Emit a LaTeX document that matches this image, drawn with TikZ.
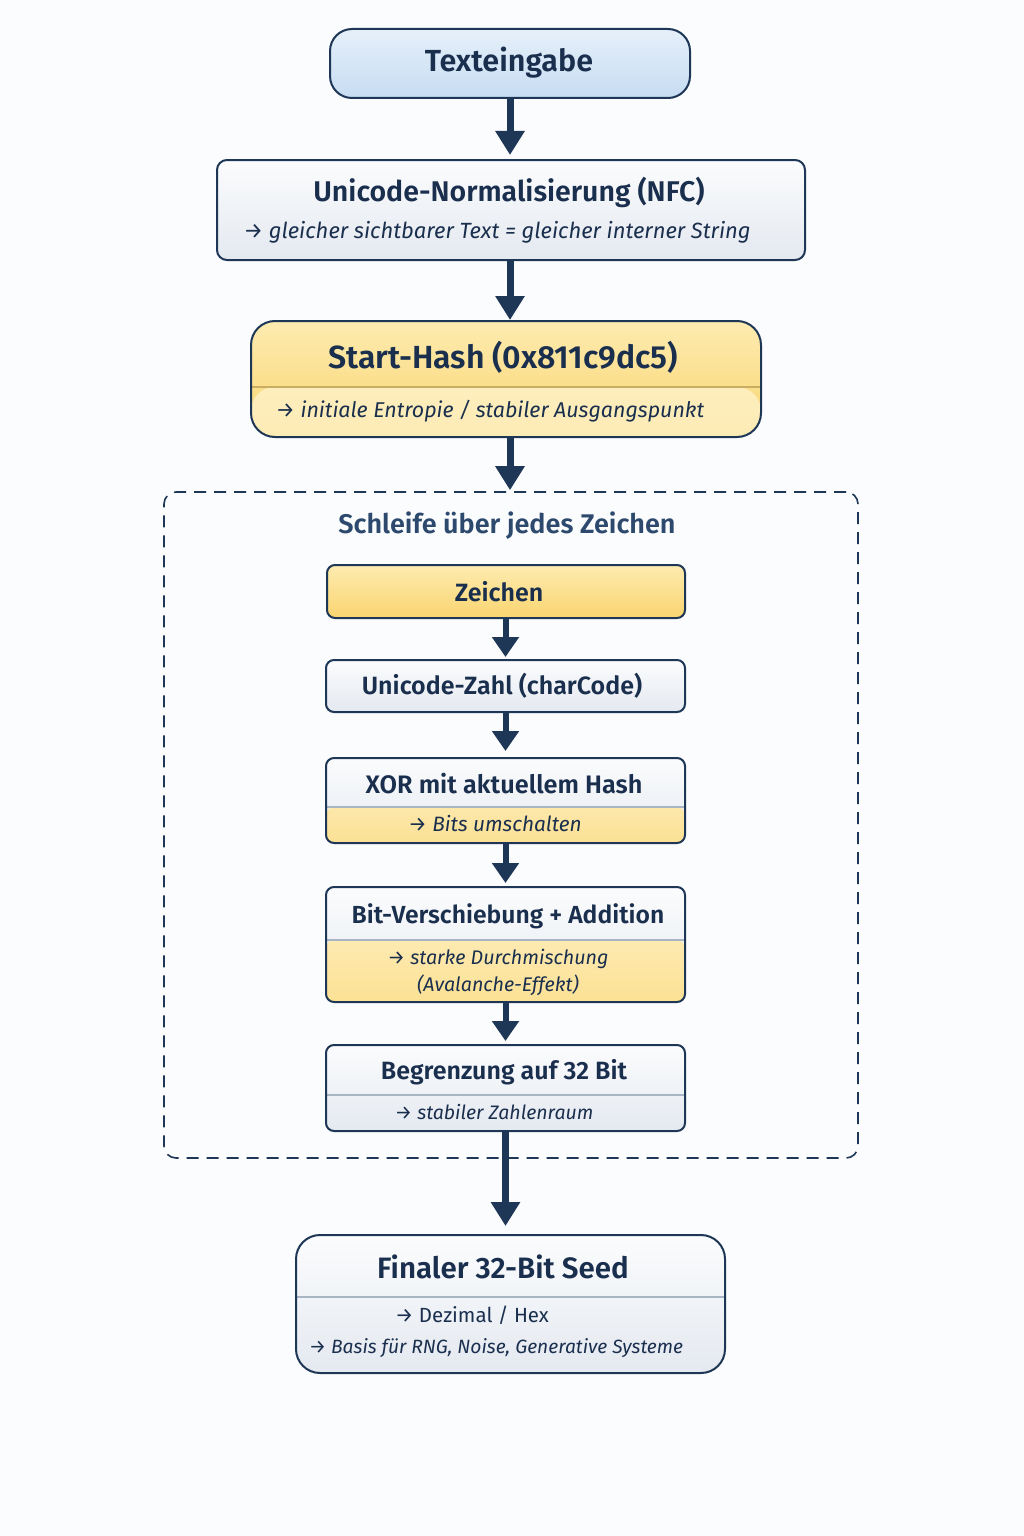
\documentclass[tikz,border=0pt]{standalone}
\usepackage{fontspec}
\setmainfont{Fira Sans}[BoldFont={Fira Sans SemiBold},BoldItalicFont={Fira Sans SemiBold Italic}]
\usetikzlibrary{arrows.meta}
\definecolor{navy}{HTML}{1E3756}
\definecolor{ink}{HTML}{1A2F4E}
\definecolor{loopink}{HTML}{2D4A6E}
\definecolor{bluetop}{HTML}{E6F0FA}
\definecolor{bluebot}{HTML}{C6DCF2}
\definecolor{whtop}{HTML}{FBFCFD}
\definecolor{whbot}{HTML}{E4E9F0}
\definecolor{yeltop}{HTML}{FDEBB0}
\definecolor{yelbot}{HTML}{FAD570}
\definecolor{lytop}{HTML}{FEF2CA}
\definecolor{lybot}{HTML}{FCE194}
\definecolor{bgcol}{HTML}{FBFCFD}
\definecolor{divgrey}{HTML}{A9B5C4}
\definecolor{divgold}{HTML}{C8AE62}
\tikzset{
  box/.style={draw=navy, line width=2pt, inner sep=0pt},
  boxw/.style={box, top color=whtop, bottom color=whbot},
  boxy/.style={box, top color=yeltop, bottom color=yelbot},
  splity/.style={path picture={
    \shade[top color=lytop, bottom color=lybot] ([yshift=-#1]path picture bounding box.north west) rectangle (path picture bounding box.south east);
    \draw[divgrey, line width=1.2pt] ([yshift=-#1]path picture bounding box.north west) -- ([yshift=-#1]path picture bounding box.north east);}},
  splitw/.style={path picture={
    \draw[divgrey, line width=1.2pt] ([yshift=-#1]path picture bounding box.north west) -- ([yshift=-#1]path picture bounding box.north east);}},
  splith/.style={path picture={
    \shade[top color=lytop, bottom color=lytop!60!lybot] ([yshift=-#1]path picture bounding box.north west) rectangle (path picture bounding box.south east);
    \draw[divgold, line width=1.2pt] ([yshift=-#1]path picture bounding box.north west) -- ([yshift=-#1]path picture bounding box.north east);}},
  ttl/.style={text=ink, font=\bfseries\fontsize{#1}{#1}\selectfont, inner sep=0pt},
  sub/.style={text=ink, font=\itshape\fontsize{#1}{#1}\selectfont, inner sep=0pt},
  arr/.style={draw=navy, line width=7pt, -{Triangle[width=28pt,length=24pt]}},
  arrs/.style={draw=navy, line width=6pt, -{Triangle[width=26pt,length=20pt]}},
}
\begin{document}
\begin{tikzpicture}[x=1pt,y=-1pt]
\fill[bgcol] (0,0) rectangle (1024,1536);
\useasboundingbox (0,0) rectangle (1024,1536);

% boxes
\node[box, top color=bluetop, bottom color=bluebot, rounded corners=22pt, minimum width=360pt, minimum height=69pt] (input) at (510,63.5) {};
\node[boxw, rounded corners=10pt, minimum width=588pt, minimum height=100pt] (norm) at (511,210) {};
\node[boxy, rounded corners=24pt, minimum width=510pt, minimum height=116pt, splith=66pt] (hash) at (506,379) {};
\node[draw=navy, line width=1.6pt, dash pattern=on 12pt off 8pt, rounded corners=12pt, minimum width=694pt, minimum height=666pt] (loop) at (511,825) {};
\node[boxy, rounded corners=8pt, minimum width=358pt, minimum height=53pt] (zeichen) at (506,591.5) {};
\node[boxw, rounded corners=8pt, minimum width=359pt, minimum height=52pt] (zahl) at (505.5,686) {};
\node[boxw, rounded corners=8pt, minimum width=359pt, minimum height=85pt, splity=49pt] (xor) at (505.5,800.5) {};
\node[boxw, rounded corners=8pt, minimum width=359pt, minimum height=115pt, splity=53pt] (shift) at (505.5,944.5) {};
\node[boxw, rounded corners=8pt, minimum width=359pt, minimum height=86pt, splitw=50pt] (limit) at (505.5,1088) {};
\node[boxw, rounded corners=24pt, minimum width=429pt, minimum height=138pt, splitw=62pt] (final) at (510.5,1304) {};

% texts
\node[ttl=30.5] (tinput) at (509,63) {Texteingabe};
\node[ttl=28.5] (tnorm) at (509,192) {Unicode-Normalisierung (NFC)};
\node[sub=22] (snorm) at (497,232) {→ gleicher sichtbarer Text = gleicher interner String};
\node[ttl=32] (thash) at (503,357) {Start-Hash (0x811c9dc5)};
\node[sub=21.4] (shash) at (490,411) {→ initiale Entropie / stabiler Ausgangspunkt};
\node[ttl=27] (tloop) [text=loopink] at (507,526) {Schleife über jedes Zeichen};
\node[ttl=25] (tzeichen) at (499,592) {Zeichen};
\node[ttl=25] (tzahl) at (502,686) {Unicode-Zahl (charCode)};
\node[ttl=25.3] (txor) at (504,784) {XOR mit aktuellem Hash};
\node[sub=20.8] (sxor) at (495,824) {→ Bits umschalten};
\node[ttl=24.7] (tshift) at (508,916) {Bit-Verschiebung + Addition};
\node[sub=19.7, align=center] (sshift) at (498,972) {→ starke Durchmischung\\[5pt](Avalanche-Effekt)};
\node[ttl=25] (tlimit) at (504,1072) {Begrenzung auf 32 Bit};
\node[sub=19.5] (slimit) at (494,1112) {→ stabiler Zahlenraum};
\node[ttl=29.5] (tfinal) at (503,1267) {Finaler 32-Bit Seed};
\node[text=ink, font=\fontsize{20.5}{20.5}\selectfont, inner sep=0pt] (sfinal1) at (472,1315) {→ Dezimal / Hex};
\node[sub=19.2] (sfinal2) at (496,1348) {→ Basis für RNG, Noise, Generative Systeme};

% connectors
\draw[arr, shorten >=4pt] (input.south) -- (input.south |- norm.north);
\draw[arr] (norm.south -| input.south) -- (input.south |- hash.north);
\draw[arr, shorten >=1pt] (hash.south -| input.south) -- (input.south |- loop.north);
\draw[arrs, shorten >=2pt] (zeichen.south -| zahl.north) -- (zahl.north);
\draw[arrs, shorten >=6pt] (zahl.south) -- (xor.north);
\draw[arrs, shorten >=3pt] (xor.south) -- (shift.north);
\draw[arrs, shorten >=3pt] (shift.south) -- (limit.north);
\draw[arr, shorten >=8pt] (limit.south) -- (limit.south |- final.north);
\end{tikzpicture}
\end{document}
